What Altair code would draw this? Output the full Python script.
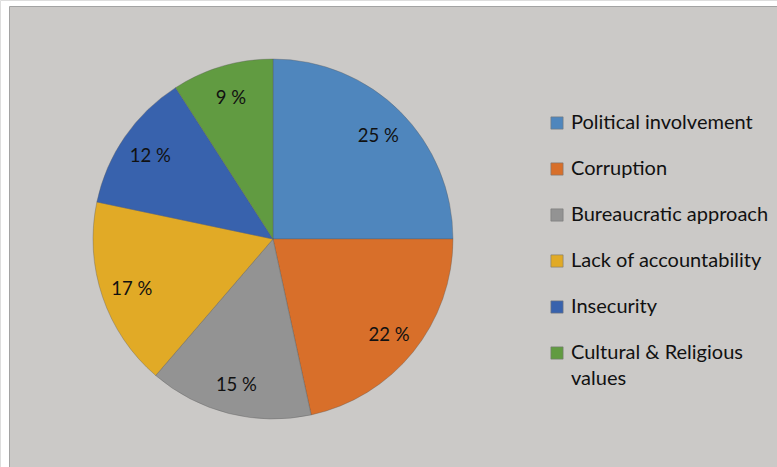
import altair as alt
import pandas as pd

categories = ["Political involvement", "Corruption", "Bureaucratic approach",
              "Lack of accountability", "Insecurity", "Cultural & Religious values"]
values = [25.0, 21.6, 14.7, 17.0, 12.6, 9.1]
labels = ["25 %", "22 %", "15 %", "17 %", "12 %", "9 %"]
colors = ["#4f86bd", "#d86f2a", "#939393", "#e1aa26", "#3862ad", "#619b41"]

df = pd.DataFrame({"category": categories, "value": values, "label": labels,
                   "idx": list(range(len(categories)))})

FONT = "Lato"
BG = "#cbc9c7"

frame = alt.Chart(pd.DataFrame({"a": [0]})).mark_rect(
    fill=BG, stroke="#a3a3a3", strokeWidth=1
).encode(x=alt.value(9.5), x2=alt.value(820), y=alt.value(6.5), y2=alt.value(520))

color = alt.Color(
    "category:N",
    sort=categories,
    scale=alt.Scale(domain=categories, range=colors),
    legend=alt.Legend(
        title=None, orient="none", legendX=547, legendY=113,
        symbolType="square", symbolSize=150, symbolStrokeWidth=0.6,
        symbolStrokeColor="#777777",
        labelFont=FONT, labelFontSize=20, labelColor="#111111",
        labelLimit=400, rowPadding=26, labelOffset=4,
        labelExpr="datum.label == 'Cultural & Religious values' ? ['Cultural & Religious', 'values'] : datum.label",
    ),
)

base = alt.Chart(df).encode(
    theta=alt.Theta("value:Q", stack=True),
    order=alt.Order("idx:Q"),
)

pie = base.mark_arc(
    radius=180, stroke="#5a5a5a", strokeWidth=0.6, strokeOpacity=0.6
).encode(color=color, x=alt.value(273), y=alt.value(239))

text = base.mark_text(
    radius=149, font=FONT, fontSize=18.5, color="#111111", dy=2
).encode(text="label:N", x=alt.value(273), y=alt.value(239))

chart = alt.layer(frame, pie, text).properties(
    width=777, height=467, padding=0, autosize=alt.AutoSizeParams(type="none"),
    background="white",
).configure_view(stroke=None).configure(style={"guide-label": {"lineHeight": 26}})

chart.save("out.html", embed_options={"renderer": "svg", "actions": False})
